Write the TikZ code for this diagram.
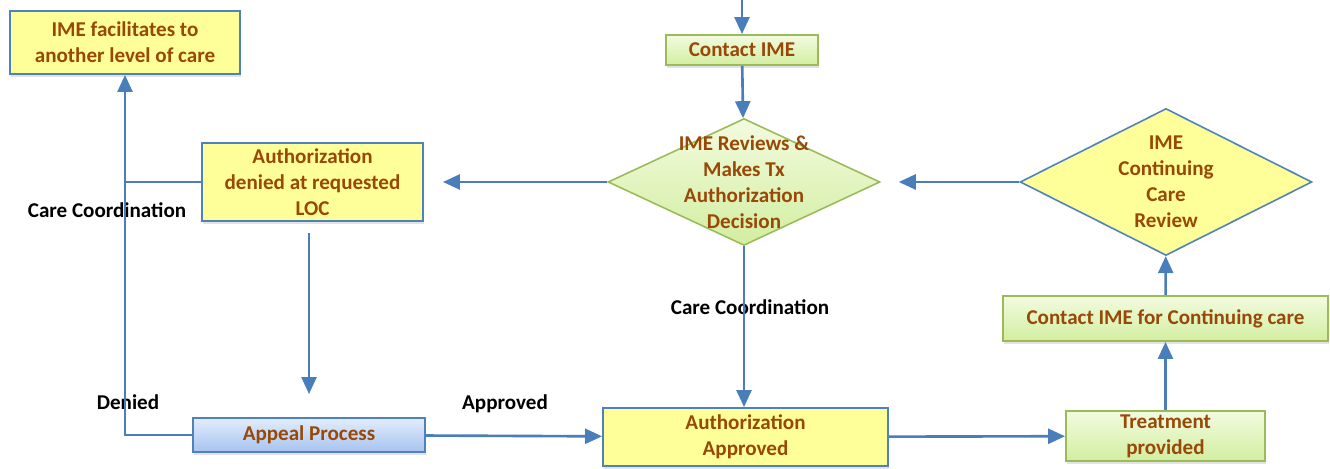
\documentclass[tikz,border=0pt]{standalone}
\usepackage{fontspec}
\setmainfont{Carlito}
\usepackage{tikz}
\usetikzlibrary{shapes.geometric,arrows.meta,shadows}
\definecolor{lineblue}{HTML}{4A7EBB}
\definecolor{boxblue}{HTML}{4F81BD}
\definecolor{boxgreen}{HTML}{9BBB59}
\definecolor{txtbrown}{HTML}{984807}
\definecolor{paleyellow}{HTML}{FFFF99}
\definecolor{greentop}{HTML}{F3FBE0}
\definecolor{greenbot}{HTML}{D2EEA0}
\definecolor{bluetop}{HTML}{E2EDFC}
\definecolor{bluebot}{HTML}{A7C3F0}

\begin{document}
\begin{tikzpicture}[x=0.02cm, y=-0.02cm,
  every node/.style={font=\fontsize{12}{14.8}\selectfont\bfseries, align=center, inner sep=1pt},
  box/.style={rectangle, text=txtbrown, line width=1.1pt,
    drop shadow={opacity=0.22, shadow xshift=0.6pt, shadow yshift=-1.8pt}},
  yellowbox/.style={box, draw=boxblue, fill=paleyellow},
  greenbox/.style={box, draw=boxgreen, top color=greentop, bottom color=greenbot},
  bluebox/.style={box, draw=boxblue, top color=bluetop, bottom color=bluebot},
  greendiam/.style={diamond, draw=boxgreen, line width=0.9pt, inner sep=0pt,
    top color=greentop, bottom color=greenbot},
  yellowdiam/.style={diamond, draw=boxblue, line width=0.9pt, inner sep=0pt, fill=paleyellow},
  lbl/.style={text=black},
  link/.style={draw=lineblue, line width=1.5pt},
  flow/.style={link, -{Triangle[length=0.34cm, width=0.3cm]}}]
\useasboundingbox (0,0) rectangle (1330,469);
\node[yellowbox, minimum width=4.6cm, minimum height=1.26cm] (facil) at (125,42.5) {IME facilitates to\\another level of care};
\node[yellowbox, minimum width=4.42cm, minimum height=1.56cm] (denied) at (312.5,182) {Authorization\\denied at requested\\LOC};
\node[greenbox, minimum width=3.04cm, minimum height=0.6cm] (contact) at (742,50) {Contact IME};
\node[greendiam, minimum width=5.44cm, minimum height=2.54cm,
  label={[text=txtbrown]center:{IME Reviews \&\\Makes Tx\\Authorization\\Decision}}] (review) at (744,182) {};
\node[yellowdiam, minimum width=5.84cm, minimum height=2.94cm,
  label={[text=txtbrown]center:{IME\\Continuing\\Care\\Review}}] (ccr) at (1166,182) {};
\node[bluebox, minimum width=4.64cm, minimum height=0.68cm] (appeal) at (309,435) {Appeal Process};
\node[yellowbox, minimum width=5.7cm, minimum height=1.16cm] (approved) at (745.5,437) {Authorization\\Approved};
\node[greenbox, minimum width=3.98cm, minimum height=1.0cm] (treat) at (1165.5,436) {Treatment\\provided};
\node[greenbox, minimum width=6.5cm, minimum height=0.9cm] (contcare) at (1165.5,318.5) {Contact IME for Continuing care};
\coordinate (intake) at (742,0);
% labels on the flow
\node[lbl] (ccleft) at (107,210) {Care Coordination};
\node[lbl] (denlbl) at (128,402) {Denied};
\node[lbl] (applbl) at (505,404) {Approved};
\node[lbl] (ccmid) at (750,307) {Care Coordination};
% connectors
\draw[flow] (intake) -- (contact);
\draw[flow] (contact) -- (review);
\draw[flow, shorten >=0.38cm] (review) -- (denied);
\draw[link] (denied.west) -- (denied.west -| facil.south);
\draw[flow] (appeal.west) -| (facil.south);
\draw[flow, shorten <=0.22cm, shorten >=0.46cm] (denied.south -| appeal.north) -- (appeal.north);
\draw[flow] (appeal) -- (approved);
\draw[flow] (review.south) -- (review.south |- approved.north);
\draw[flow] (approved) -- (treat);
\draw[flow] (treat) -- (contcare);
\draw[flow] (contcare) -- (ccr);
\draw[flow, shorten >=0.36cm] (ccr) -- (review);
\end{tikzpicture}
\end{document}
